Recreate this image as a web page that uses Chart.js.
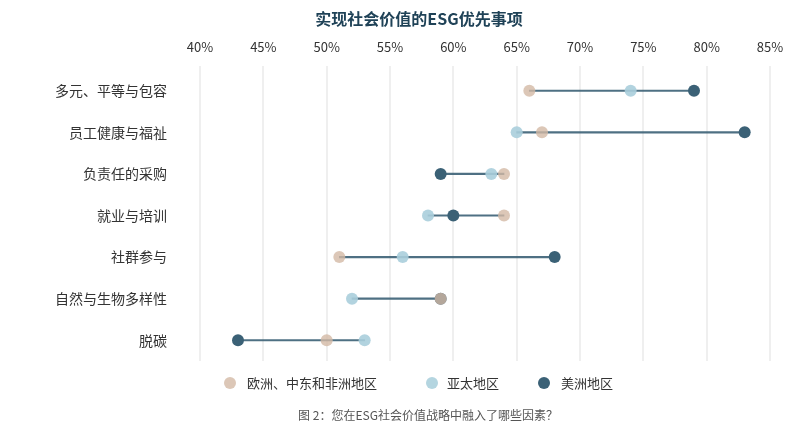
<!DOCTYPE html>
<html>
<head>
<meta charset="utf-8">
<script src="https://cdn.jsdelivr.net/npm/chart.js@4/dist/chart.umd.min.js"></script>
<style>
  html, body { margin: 0; padding: 0; background: #ffffff; }
  body { width: 805px; height: 425px; position: relative; overflow: hidden; font-family: "Noto Sans CJK SC", "Noto Sans", sans-serif; }
  #wrap { position: absolute; left: 0; top: 0; width: 805px; height: 425px; }
  .title { position: absolute; left: 0; width: 838px; top: 7px; text-align: center; font-size: 16px; font-weight: bold; color: #1f4257; line-height: 22px; }
  .lg { position: absolute; top: 374px; font-size: 13px; color: #333; line-height: 18px; }
  .dot { position: absolute; top: 377px; width: 12px; height: 12px; border-radius: 50%; }
  .caption { position: absolute; left: 0; width: 856px; top: 406px; text-align: center; font-size: 12px; color: #555; line-height: 17px; }
</style>
</head>
<body>
<div id="wrap"><canvas id="c" width="805" height="425"></canvas></div>
<div class="title">实现社会价值的ESG优先事项</div>
<div class="dot" style="left:224px;background:#dcc7b7"></div>
<div class="lg" style="left:247px">欧洲、中东和非洲地区</div>
<div class="dot" style="left:426px;background:#b4d5e0"></div>
<div class="lg" style="left:447px">亚太地区</div>
<div class="dot" style="left:538px;background:#3b6176"></div>
<div class="lg" style="left:561px">美洲地区</div>
<div class="caption">图 2：您在ESG社会价值战略中融入了哪些因素？</div>
<script>
const categories = ['多元、平等与包容', '员工健康与福祉', '负责任的采购', '就业与培训', '社群参与', '自然与生物多样性', '脱碳'];
const emea = [66, 67, 64, 64, 51, 59, 50];
const apac = [74, 65, 63, 58, 56, 52, 53];
const americas = [79, 83, 59, 60, 68, 59, 43];
const xTicks = [40, 45, 50, 55, 60, 65, 70, 75, 80, 85];

const ranges = categories.map((_, i) => {
  const v = [emea[i], apac[i], americas[i]];
  return [Math.min(...v), Math.max(...v)];
});

Chart.defaults.font.family = '"Noto Sans CJK SC", "Noto Sans", sans-serif';
Chart.defaults.color = '#333';

new Chart(document.getElementById('c'), {
  type: 'bar',
  data: {
    labels: categories,
    datasets: [
      { type: 'bar', label: 'range', data: ranges, backgroundColor: 'rgba(59,97,118,0.9)', barThickness: 1.5, borderWidth: 0, order: 4 },
      { type: 'line', label: '美洲地区', data: americas, showLine: false, pointRadius: 6, pointBorderWidth: 0, pointBackgroundColor: '#3b6176', order: 3 },
      { type: 'line', label: '亚太地区', data: apac, showLine: false, pointRadius: 6, pointBorderWidth: 0, pointBackgroundColor: 'rgba(170,206,219,0.9)', order: 2 },
      { type: 'line', label: '欧洲、中东和非洲地区', data: emea, showLine: false, pointRadius: 6, pointBorderWidth: 0, pointBackgroundColor: 'rgba(211,185,165,0.8)', order: 1 }
    ]
  },
  options: {
    indexAxis: 'y',
    responsive: false,
    animation: false,
    layout: { padding: { top: 30, left: 0, right: 35, bottom: 64 } },
    plugins: { legend: { display: false }, tooltip: { enabled: false }, title: { display: false } },
    scales: {
      x: {
        type: 'linear',
        position: 'top',
        min: 40, max: 85,
        afterBuildTicks: (s) => { s.ticks = xTicks.map(v => ({ value: v })); },
        afterFit: (s) => { s.height = 40; },
        ticks: { callback: (v) => v + '%', font: { size: 13 }, color: '#333', padding: 11 },
        grid: { color: '#efefef', lineWidth: 2, tickLength: 4, drawTicks: true, tickColor: '#efefef' },
        border: { display: false }
      },
      y: {
        type: 'category',
        afterFit: (s) => { s.width = 200; },
        ticks: { font: { size: 14 }, color: '#333', padding: 33 },
        grid: { display: false, drawTicks: false },
        border: { display: false }
      }
    }
  }
});
</script>
</body>
</html>
